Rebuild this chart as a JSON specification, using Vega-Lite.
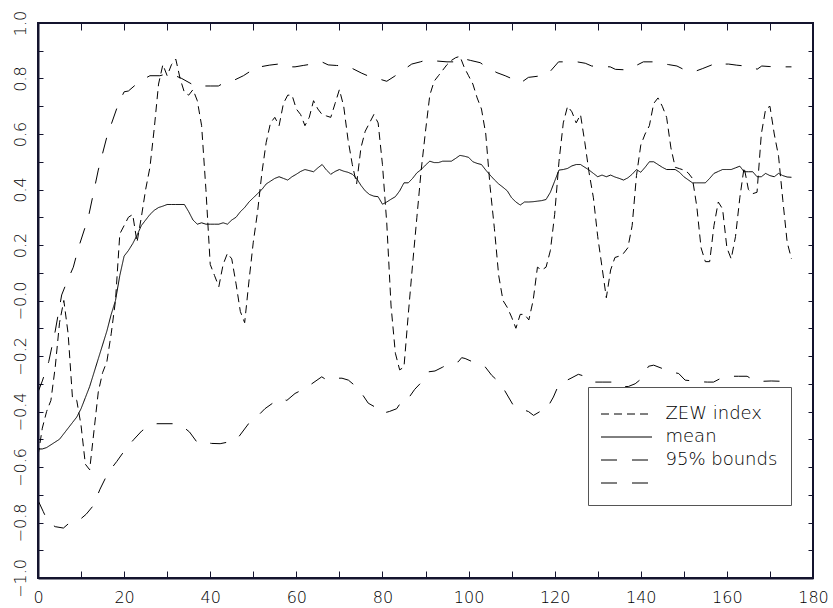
{
  "$schema": "https://vega.github.io/schema/vega-lite/v6.json",
  "width": 775,
  "height": 555,
  "autosize": {"type": "none"},
  "padding": {"left": 38, "top": 23, "right": 20, "bottom": 30},
  "background": "white",
  "config": {
    "view": {"stroke": "#14142e", "strokeWidth": 2},
    "font": "DejaVu Sans",
    "axis": {
      "grid": false,
      "labelFont": "DejaVu Sans",
      "labelFontSize": 16,
      "labelFontWeight": 200,
      "labelColor": "black",
      "labelOverlap": false,
      "title": null
    }
  },
  "data": {
    "values": [
      {"x":0,"y":-0.56,"s":"ZEW index"},{"x":1,"y":-0.46,"s":"ZEW index"},{"x":2,"y":-0.40,"s":"ZEW index"},{"x":3,"y":-0.36,"s":"ZEW index"},{"x":4,"y":-0.24,"s":"ZEW index"},{"x":5,"y":-0.08,"s":"ZEW index"},{"x":6,"y":0.0,"s":"ZEW index"},{"x":7,"y":-0.12,"s":"ZEW index"},{"x":8,"y":-0.35,"s":"ZEW index"},{"x":9,"y":-0.36,"s":"ZEW index"},
      {"x":10,"y":-0.45,"s":"ZEW index"},{"x":11,"y":-0.59,"s":"ZEW index"},{"x":12,"y":-0.61,"s":"ZEW index"},{"x":13,"y":-0.47,"s":"ZEW index"},{"x":14,"y":-0.33,"s":"ZEW index"},{"x":15,"y":-0.26,"s":"ZEW index"},{"x":16,"y":-0.22,"s":"ZEW index"},{"x":17,"y":-0.12,"s":"ZEW index"},{"x":18,"y":0.0,"s":"ZEW index"},{"x":19,"y":0.24,"s":"ZEW index"},
      {"x":20,"y":0.27,"s":"ZEW index"},{"x":21,"y":0.30,"s":"ZEW index"},{"x":22,"y":0.31,"s":"ZEW index"},{"x":23,"y":0.21,"s":"ZEW index"},{"x":24,"y":0.30,"s":"ZEW index"},{"x":25,"y":0.40,"s":"ZEW index"},{"x":26,"y":0.48,"s":"ZEW index"},{"x":27,"y":0.62,"s":"ZEW index"},{"x":28,"y":0.78,"s":"ZEW index"},{"x":29,"y":0.85,"s":"ZEW index"},
      {"x":30,"y":0.81,"s":"ZEW index"},{"x":31,"y":0.85,"s":"ZEW index"},{"x":32,"y":0.87,"s":"ZEW index"},{"x":33,"y":0.80,"s":"ZEW index"},{"x":34,"y":0.75,"s":"ZEW index"},{"x":35,"y":0.74,"s":"ZEW index"},{"x":36,"y":0.76,"s":"ZEW index"},{"x":37,"y":0.72,"s":"ZEW index"},{"x":38,"y":0.63,"s":"ZEW index"},{"x":39,"y":0.40,"s":"ZEW index"},
      {"x":40,"y":0.13,"s":"ZEW index"},{"x":41,"y":0.09,"s":"ZEW index"},{"x":42,"y":0.05,"s":"ZEW index"},{"x":43,"y":0.13,"s":"ZEW index"},{"x":44,"y":0.17,"s":"ZEW index"},{"x":45,"y":0.15,"s":"ZEW index"},{"x":46,"y":0.06,"s":"ZEW index"},{"x":47,"y":-0.04,"s":"ZEW index"},{"x":48,"y":-0.08,"s":"ZEW index"},{"x":49,"y":0.07,"s":"ZEW index"},
      {"x":50,"y":0.21,"s":"ZEW index"},{"x":51,"y":0.32,"s":"ZEW index"},{"x":52,"y":0.46,"s":"ZEW index"},{"x":53,"y":0.57,"s":"ZEW index"},{"x":54,"y":0.64,"s":"ZEW index"},{"x":55,"y":0.66,"s":"ZEW index"},{"x":56,"y":0.63,"s":"ZEW index"},{"x":57,"y":0.71,"s":"ZEW index"},{"x":58,"y":0.74,"s":"ZEW index"},{"x":59,"y":0.74,"s":"ZEW index"},
      {"x":60,"y":0.69,"s":"ZEW index"},{"x":61,"y":0.67,"s":"ZEW index"},{"x":62,"y":0.63,"s":"ZEW index"},{"x":63,"y":0.66,"s":"ZEW index"},{"x":64,"y":0.72,"s":"ZEW index"},{"x":65,"y":0.69,"s":"ZEW index"},{"x":66,"y":0.67,"s":"ZEW index"},{"x":67,"y":0.665,"s":"ZEW index"},{"x":68,"y":0.66,"s":"ZEW index"},{"x":69,"y":0.71,"s":"ZEW index"},
      {"x":70,"y":0.76,"s":"ZEW index"},{"x":71,"y":0.70,"s":"ZEW index"},{"x":72,"y":0.58,"s":"ZEW index"},{"x":73,"y":0.49,"s":"ZEW index"},{"x":74,"y":0.42,"s":"ZEW index"},{"x":75,"y":0.55,"s":"ZEW index"},{"x":76,"y":0.61,"s":"ZEW index"},{"x":77,"y":0.64,"s":"ZEW index"},{"x":78,"y":0.67,"s":"ZEW index"},{"x":79,"y":0.64,"s":"ZEW index"},
      {"x":80,"y":0.49,"s":"ZEW index"},{"x":81,"y":0.28,"s":"ZEW index"},{"x":82,"y":-0.02,"s":"ZEW index"},{"x":83,"y":-0.19,"s":"ZEW index"},{"x":84,"y":-0.25,"s":"ZEW index"},{"x":85,"y":-0.24,"s":"ZEW index"},{"x":86,"y":-0.05,"s":"ZEW index"},{"x":87,"y":0.13,"s":"ZEW index"},{"x":88,"y":0.30,"s":"ZEW index"},{"x":89,"y":0.47,"s":"ZEW index"},
      {"x":90,"y":0.61,"s":"ZEW index"},{"x":91,"y":0.74,"s":"ZEW index"},{"x":92,"y":0.79,"s":"ZEW index"},{"x":93,"y":0.81,"s":"ZEW index"},{"x":94,"y":0.83,"s":"ZEW index"},{"x":95,"y":0.85,"s":"ZEW index"},{"x":96,"y":0.865,"s":"ZEW index"},{"x":97,"y":0.875,"s":"ZEW index"},{"x":98,"y":0.88,"s":"ZEW index"},{"x":99,"y":0.84,"s":"ZEW index"},
      {"x":100,"y":0.81,"s":"ZEW index"},{"x":101,"y":0.78,"s":"ZEW index"},{"x":102,"y":0.73,"s":"ZEW index"},{"x":103,"y":0.69,"s":"ZEW index"},{"x":104,"y":0.60,"s":"ZEW index"},{"x":105,"y":0.41,"s":"ZEW index"},{"x":106,"y":0.26,"s":"ZEW index"},{"x":107,"y":0.09,"s":"ZEW index"},{"x":108,"y":0.0,"s":"ZEW index"},{"x":109,"y":-0.025,"s":"ZEW index"},
      {"x":110,"y":-0.06,"s":"ZEW index"},{"x":111,"y":-0.10,"s":"ZEW index"},{"x":112,"y":-0.05,"s":"ZEW index"},{"x":113,"y":-0.05,"s":"ZEW index"},{"x":114,"y":-0.07,"s":"ZEW index"},{"x":115,"y":0.0,"s":"ZEW index"},{"x":116,"y":0.12,"s":"ZEW index"},{"x":117,"y":0.11,"s":"ZEW index"},{"x":118,"y":0.12,"s":"ZEW index"},{"x":119,"y":0.18,"s":"ZEW index"},
      {"x":120,"y":0.31,"s":"ZEW index"},{"x":121,"y":0.50,"s":"ZEW index"},{"x":122,"y":0.64,"s":"ZEW index"},{"x":123,"y":0.70,"s":"ZEW index"},{"x":124,"y":0.68,"s":"ZEW index"},{"x":125,"y":0.64,"s":"ZEW index"},{"x":126,"y":0.67,"s":"ZEW index"},{"x":127,"y":0.57,"s":"ZEW index"},{"x":128,"y":0.46,"s":"ZEW index"},{"x":129,"y":0.37,"s":"ZEW index"},
      {"x":130,"y":0.23,"s":"ZEW index"},{"x":131,"y":0.12,"s":"ZEW index"},{"x":132,"y":0.01,"s":"ZEW index"},{"x":133,"y":0.11,"s":"ZEW index"},{"x":134,"y":0.155,"s":"ZEW index"},{"x":135,"y":0.16,"s":"ZEW index"},{"x":136,"y":0.17,"s":"ZEW index"},{"x":137,"y":0.19,"s":"ZEW index"},{"x":138,"y":0.27,"s":"ZEW index"},{"x":139,"y":0.45,"s":"ZEW index"},
      {"x":140,"y":0.56,"s":"ZEW index"},{"x":141,"y":0.60,"s":"ZEW index"},{"x":142,"y":0.63,"s":"ZEW index"},{"x":143,"y":0.71,"s":"ZEW index"},{"x":144,"y":0.73,"s":"ZEW index"},{"x":145,"y":0.70,"s":"ZEW index"},{"x":146,"y":0.66,"s":"ZEW index"},{"x":147,"y":0.55,"s":"ZEW index"},{"x":148,"y":0.48,"s":"ZEW index"},{"x":149,"y":0.475,"s":"ZEW index"},
      {"x":150,"y":0.47,"s":"ZEW index"},{"x":151,"y":0.46,"s":"ZEW index"},{"x":152,"y":0.44,"s":"ZEW index"},{"x":153,"y":0.34,"s":"ZEW index"},{"x":154,"y":0.19,"s":"ZEW index"},{"x":155,"y":0.14,"s":"ZEW index"},{"x":156,"y":0.14,"s":"ZEW index"},{"x":157,"y":0.27,"s":"ZEW index"},{"x":158,"y":0.355,"s":"ZEW index"},{"x":159,"y":0.33,"s":"ZEW index"},
      {"x":160,"y":0.19,"s":"ZEW index"},{"x":161,"y":0.15,"s":"ZEW index"},{"x":162,"y":0.23,"s":"ZEW index"},{"x":163,"y":0.37,"s":"ZEW index"},{"x":164,"y":0.48,"s":"ZEW index"},{"x":165,"y":0.40,"s":"ZEW index"},{"x":166,"y":0.385,"s":"ZEW index"},{"x":167,"y":0.39,"s":"ZEW index"},{"x":168,"y":0.60,"s":"ZEW index"},{"x":169,"y":0.69,"s":"ZEW index"},
      {"x":170,"y":0.70,"s":"ZEW index"},{"x":171,"y":0.60,"s":"ZEW index"},{"x":172,"y":0.52,"s":"ZEW index"},{"x":173,"y":0.36,"s":"ZEW index"},{"x":174,"y":0.21,"s":"ZEW index"},{"x":175,"y":0.15,"s":"ZEW index"},

      {"x":0,"y":-0.535,"s":"mean"},{"x":1,"y":-0.535,"s":"mean"},{"x":2,"y":-0.53,"s":"mean"},{"x":3,"y":-0.52,"s":"mean"},{"x":4,"y":-0.51,"s":"mean"},{"x":5,"y":-0.50,"s":"mean"},{"x":6,"y":-0.48,"s":"mean"},{"x":7,"y":-0.46,"s":"mean"},{"x":8,"y":-0.44,"s":"mean"},{"x":9,"y":-0.42,"s":"mean"},
      {"x":10,"y":-0.39,"s":"mean"},{"x":11,"y":-0.35,"s":"mean"},{"x":12,"y":-0.31,"s":"mean"},{"x":13,"y":-0.26,"s":"mean"},{"x":14,"y":-0.21,"s":"mean"},{"x":15,"y":-0.16,"s":"mean"},{"x":16,"y":-0.11,"s":"mean"},{"x":17,"y":-0.05,"s":"mean"},{"x":18,"y":0.0,"s":"mean"},{"x":19,"y":0.09,"s":"mean"},
      {"x":20,"y":0.16,"s":"mean"},{"x":21,"y":0.18,"s":"mean"},{"x":22,"y":0.205,"s":"mean"},{"x":23,"y":0.235,"s":"mean"},{"x":24,"y":0.27,"s":"mean"},{"x":25,"y":0.29,"s":"mean"},{"x":26,"y":0.31,"s":"mean"},{"x":27,"y":0.325,"s":"mean"},{"x":28,"y":0.335,"s":"mean"},{"x":29,"y":0.34,"s":"mean"},
      {"x":30,"y":0.346,"s":"mean"},{"x":31,"y":0.346,"s":"mean"},{"x":32,"y":0.346,"s":"mean"},{"x":33,"y":0.346,"s":"mean"},{"x":34,"y":0.346,"s":"mean"},{"x":35,"y":0.32,"s":"mean"},{"x":36,"y":0.29,"s":"mean"},{"x":37,"y":0.275,"s":"mean"},{"x":38,"y":0.28,"s":"mean"},{"x":39,"y":0.275,"s":"mean"},
      {"x":40,"y":0.275,"s":"mean"},{"x":41,"y":0.275,"s":"mean"},{"x":42,"y":0.275,"s":"mean"},{"x":43,"y":0.28,"s":"mean"},{"x":44,"y":0.275,"s":"mean"},{"x":45,"y":0.29,"s":"mean"},{"x":46,"y":0.30,"s":"mean"},{"x":47,"y":0.32,"s":"mean"},{"x":48,"y":0.335,"s":"mean"},{"x":49,"y":0.355,"s":"mean"},
      {"x":50,"y":0.37,"s":"mean"},{"x":51,"y":0.385,"s":"mean"},{"x":52,"y":0.40,"s":"mean"},{"x":53,"y":0.42,"s":"mean"},{"x":54,"y":0.43,"s":"mean"},{"x":55,"y":0.44,"s":"mean"},{"x":56,"y":0.446,"s":"mean"},{"x":57,"y":0.44,"s":"mean"},{"x":58,"y":0.434,"s":"mean"},{"x":59,"y":0.446,"s":"mean"},
      {"x":60,"y":0.455,"s":"mean"},{"x":61,"y":0.465,"s":"mean"},{"x":62,"y":0.472,"s":"mean"},{"x":63,"y":0.468,"s":"mean"},{"x":64,"y":0.464,"s":"mean"},{"x":65,"y":0.478,"s":"mean"},{"x":66,"y":0.49,"s":"mean"},{"x":67,"y":0.47,"s":"mean"},{"x":68,"y":0.455,"s":"mean"},{"x":69,"y":0.465,"s":"mean"},
      {"x":70,"y":0.472,"s":"mean"},{"x":71,"y":0.466,"s":"mean"},{"x":72,"y":0.462,"s":"mean"},{"x":73,"y":0.455,"s":"mean"},{"x":74,"y":0.44,"s":"mean"},{"x":75,"y":0.415,"s":"mean"},{"x":76,"y":0.395,"s":"mean"},{"x":77,"y":0.382,"s":"mean"},{"x":78,"y":0.376,"s":"mean"},{"x":79,"y":0.374,"s":"mean"},
      {"x":80,"y":0.347,"s":"mean"},{"x":81,"y":0.355,"s":"mean"},{"x":82,"y":0.365,"s":"mean"},{"x":83,"y":0.374,"s":"mean"},{"x":84,"y":0.395,"s":"mean"},{"x":85,"y":0.424,"s":"mean"},{"x":86,"y":0.424,"s":"mean"},{"x":87,"y":0.44,"s":"mean"},{"x":88,"y":0.46,"s":"mean"},{"x":89,"y":0.472,"s":"mean"},
      {"x":90,"y":0.488,"s":"mean"},{"x":91,"y":0.502,"s":"mean"},{"x":92,"y":0.497,"s":"mean"},{"x":93,"y":0.497,"s":"mean"},{"x":94,"y":0.502,"s":"mean"},{"x":95,"y":0.502,"s":"mean"},{"x":96,"y":0.502,"s":"mean"},{"x":97,"y":0.512,"s":"mean"},{"x":98,"y":0.523,"s":"mean"},{"x":99,"y":0.52,"s":"mean"},
      {"x":100,"y":0.516,"s":"mean"},{"x":101,"y":0.50,"s":"mean"},{"x":102,"y":0.494,"s":"mean"},{"x":103,"y":0.49,"s":"mean"},{"x":104,"y":0.47,"s":"mean"},{"x":105,"y":0.452,"s":"mean"},{"x":106,"y":0.435,"s":"mean"},{"x":107,"y":0.42,"s":"mean"},{"x":108,"y":0.408,"s":"mean"},{"x":109,"y":0.395,"s":"mean"},
      {"x":110,"y":0.37,"s":"mean"},{"x":111,"y":0.355,"s":"mean"},{"x":112,"y":0.344,"s":"mean"},{"x":113,"y":0.355,"s":"mean"},{"x":114,"y":0.355,"s":"mean"},{"x":115,"y":0.356,"s":"mean"},{"x":116,"y":0.358,"s":"mean"},{"x":117,"y":0.36,"s":"mean"},{"x":118,"y":0.364,"s":"mean"},{"x":119,"y":0.39,"s":"mean"},
      {"x":120,"y":0.43,"s":"mean"},{"x":121,"y":0.47,"s":"mean"},{"x":122,"y":0.472,"s":"mean"},{"x":123,"y":0.476,"s":"mean"},{"x":124,"y":0.485,"s":"mean"},{"x":125,"y":0.49,"s":"mean"},{"x":126,"y":0.49,"s":"mean"},{"x":127,"y":0.48,"s":"mean"},{"x":128,"y":0.47,"s":"mean"},{"x":129,"y":0.458,"s":"mean"},
      {"x":130,"y":0.446,"s":"mean"},{"x":131,"y":0.452,"s":"mean"},{"x":132,"y":0.446,"s":"mean"},{"x":133,"y":0.452,"s":"mean"},{"x":134,"y":0.445,"s":"mean"},{"x":135,"y":0.44,"s":"mean"},{"x":136,"y":0.434,"s":"mean"},{"x":137,"y":0.442,"s":"mean"},{"x":138,"y":0.455,"s":"mean"},{"x":139,"y":0.472,"s":"mean"},
      {"x":140,"y":0.462,"s":"mean"},{"x":141,"y":0.48,"s":"mean"},{"x":142,"y":0.50,"s":"mean"},{"x":143,"y":0.50,"s":"mean"},{"x":144,"y":0.49,"s":"mean"},{"x":145,"y":0.48,"s":"mean"},{"x":146,"y":0.472,"s":"mean"},{"x":147,"y":0.472,"s":"mean"},{"x":148,"y":0.472,"s":"mean"},{"x":149,"y":0.462,"s":"mean"},
      {"x":150,"y":0.446,"s":"mean"},{"x":151,"y":0.435,"s":"mean"},{"x":152,"y":0.424,"s":"mean"},{"x":153,"y":0.424,"s":"mean"},{"x":154,"y":0.424,"s":"mean"},{"x":155,"y":0.424,"s":"mean"},{"x":156,"y":0.44,"s":"mean"},{"x":157,"y":0.458,"s":"mean"},{"x":158,"y":0.465,"s":"mean"},{"x":159,"y":0.472,"s":"mean"},
      {"x":160,"y":0.472,"s":"mean"},{"x":161,"y":0.472,"s":"mean"},{"x":162,"y":0.478,"s":"mean"},{"x":163,"y":0.484,"s":"mean"},{"x":164,"y":0.464,"s":"mean"},{"x":165,"y":0.464,"s":"mean"},{"x":166,"y":0.464,"s":"mean"},{"x":167,"y":0.446,"s":"mean"},{"x":168,"y":0.446,"s":"mean"},{"x":169,"y":0.458,"s":"mean"},
      {"x":170,"y":0.45,"s":"mean"},{"x":171,"y":0.446,"s":"mean"},{"x":172,"y":0.458,"s":"mean"},{"x":173,"y":0.45,"s":"mean"},{"x":174,"y":0.445,"s":"mean"},{"x":175,"y":0.444,"s":"mean"},

      {"x":0,"y":-0.33,"s":"95% bounds"},{"x":1,"y":-0.29,"s":"95% bounds"},{"x":2.5,"y":-0.22,"s":"95% bounds"},{"x":4,"y":-0.11,"s":"95% bounds"},{"x":5.5,"y":0.02,"s":"95% bounds"},{"x":6.7,"y":0.067,"s":"95% bounds"},{"x":8.2,"y":0.12,"s":"95% bounds"},{"x":9.4,"y":0.19,"s":"95% bounds"},{"x":11.7,"y":0.30,"s":"95% bounds"},{"x":14,"y":0.47,"s":"95% bounds"},
      {"x":16,"y":0.59,"s":"95% bounds"},{"x":18.7,"y":0.71,"s":"95% bounds"},{"x":20,"y":0.752,"s":"95% bounds"},{"x":21,"y":0.755,"s":"95% bounds"},{"x":22.5,"y":0.775,"s":"95% bounds"},{"x":24.1,"y":0.794,"s":"95% bounds"},{"x":26,"y":0.81,"s":"95% bounds"},{"x":28.3,"y":0.81,"s":"95% bounds"},{"x":29.5,"y":0.815,"s":"95% bounds"},{"x":31,"y":0.816,"s":"95% bounds"},
      {"x":33.4,"y":0.80,"s":"95% bounds"},{"x":35.7,"y":0.78,"s":"95% bounds"},{"x":36.9,"y":0.77,"s":"95% bounds"},{"x":37.6,"y":0.773,"s":"95% bounds"},{"x":40,"y":0.773,"s":"95% bounds"},{"x":41.9,"y":0.773,"s":"95% bounds"},{"x":42.7,"y":0.78,"s":"95% bounds"},{"x":43.8,"y":0.783,"s":"95% bounds"},{"x":45.7,"y":0.795,"s":"95% bounds"},{"x":47.7,"y":0.81,"s":"95% bounds"},
      {"x":50,"y":0.833,"s":"95% bounds"},{"x":51.2,"y":0.833,"s":"95% bounds"},{"x":51.6,"y":0.842,"s":"95% bounds"},{"x":53.7,"y":0.848,"s":"95% bounds"},{"x":55.8,"y":0.852,"s":"95% bounds"},{"x":57.4,"y":0.842,"s":"95% bounds"},{"x":59.7,"y":0.842,"s":"95% bounds"},{"x":61.6,"y":0.847,"s":"95% bounds"},{"x":63.6,"y":0.852,"s":"95% bounds"},{"x":65.9,"y":0.86,"s":"95% bounds"},
      {"x":67.4,"y":0.849,"s":"95% bounds"},{"x":69.3,"y":0.847,"s":"95% bounds"},{"x":71.3,"y":0.845,"s":"95% bounds"},{"x":72.9,"y":0.837,"s":"95% bounds"},{"x":75.2,"y":0.819,"s":"95% bounds"},{"x":77.3,"y":0.805,"s":"95% bounds"},{"x":79.5,"y":0.797,"s":"95% bounds"},{"x":81,"y":0.79,"s":"95% bounds"},{"x":82.9,"y":0.809,"s":"95% bounds"},{"x":84.8,"y":0.83,"s":"95% bounds"},
      {"x":86.8,"y":0.852,"s":"95% bounds"},{"x":88.8,"y":0.86,"s":"95% bounds"},{"x":90.3,"y":0.867,"s":"95% bounds"},{"x":92.6,"y":0.863,"s":"95% bounds"},{"x":95,"y":0.86,"s":"95% bounds"},{"x":96.5,"y":0.86,"s":"95% bounds"},{"x":98.4,"y":0.873,"s":"95% bounds"},{"x":100.5,"y":0.865,"s":"95% bounds"},{"x":102.7,"y":0.857,"s":"95% bounds"},{"x":104.6,"y":0.837,"s":"95% bounds"},
      {"x":106.6,"y":0.821,"s":"95% bounds"},{"x":108.5,"y":0.81,"s":"95% bounds"},{"x":110.4,"y":0.797,"s":"95% bounds"},{"x":112,"y":0.783,"s":"95% bounds"},{"x":113.9,"y":0.804,"s":"95% bounds"},{"x":116,"y":0.808,"s":"95% bounds"},{"x":118.2,"y":0.812,"s":"95% bounds"},{"x":120.9,"y":0.86,"s":"95% bounds"},{"x":123,"y":0.86,"s":"95% bounds"},{"x":125.2,"y":0.86,"s":"95% bounds"},
      {"x":127.1,"y":0.855,"s":"95% bounds"},{"x":128.6,"y":0.845,"s":"95% bounds"},{"x":130.8,"y":0.843,"s":"95% bounds"},{"x":132.9,"y":0.842,"s":"95% bounds"},{"x":134.1,"y":0.833,"s":"95% bounds"},{"x":136.8,"y":0.831,"s":"95% bounds"},{"x":138.7,"y":0.845,"s":"95% bounds"},{"x":140.6,"y":0.86,"s":"95% bounds"},{"x":142.9,"y":0.86,"s":"95% bounds"},{"x":144.5,"y":0.855,"s":"95% bounds"},
      {"x":146.5,"y":0.85,"s":"95% bounds"},{"x":148.4,"y":0.845,"s":"95% bounds"},{"x":150.3,"y":0.83,"s":"95% bounds"},{"x":152.3,"y":0.824,"s":"95% bounds"},{"x":154.4,"y":0.836,"s":"95% bounds"},{"x":156.5,"y":0.849,"s":"95% bounds"},{"x":157.7,"y":0.842,"s":"95% bounds"},{"x":158.9,"y":0.852,"s":"95% bounds"},{"x":160.4,"y":0.852,"s":"95% bounds"},{"x":162.3,"y":0.848,"s":"95% bounds"},
      {"x":164.3,"y":0.845,"s":"95% bounds"},{"x":166.2,"y":0.842,"s":"95% bounds"},{"x":167,"y":0.833,"s":"95% bounds"},{"x":168.1,"y":0.845,"s":"95% bounds"},{"x":170,"y":0.843,"s":"95% bounds"},{"x":172.2,"y":0.842,"s":"95% bounds"},{"x":175,"y":0.842,"s":"95% bounds"},

      {"x":0,"y":-0.72,"s":"lower"},{"x":1.2,"y":-0.76,"s":"lower"},{"x":2.4,"y":-0.80,"s":"lower"},{"x":4,"y":-0.815,"s":"lower"},{"x":5.9,"y":-0.82,"s":"lower"},{"x":7.4,"y":-0.80,"s":"lower"},{"x":8.2,"y":-0.80,"s":"lower"},{"x":9.7,"y":-0.79,"s":"lower"},{"x":11.2,"y":-0.77,"s":"lower"},{"x":12.8,"y":-0.74,"s":"lower"},
      {"x":14.4,"y":-0.68,"s":"lower"},{"x":16.3,"y":-0.62,"s":"lower"},{"x":18.3,"y":-0.58,"s":"lower"},{"x":20.6,"y":-0.53,"s":"lower"},{"x":22.3,"y":-0.50,"s":"lower"},{"x":24.1,"y":-0.47,"s":"lower"},{"x":26,"y":-0.45,"s":"lower"},{"x":27.6,"y":-0.444,"s":"lower"},{"x":31.4,"y":-0.444,"s":"lower"},{"x":33.3,"y":-0.45,"s":"lower"},
      {"x":35.2,"y":-0.474,"s":"lower"},{"x":36.9,"y":-0.51,"s":"lower"},{"x":37.5,"y":-0.505,"s":"lower"},{"x":38.4,"y":-0.51,"s":"lower"},{"x":40.3,"y":-0.515,"s":"lower"},{"x":42.3,"y":-0.516,"s":"lower"},{"x":44.2,"y":-0.51,"s":"lower"},{"x":46.2,"y":-0.50,"s":"lower"},{"x":48.9,"y":-0.444,"s":"lower"},{"x":50.8,"y":-0.42,"s":"lower"},
      {"x":52.7,"y":-0.39,"s":"lower"},{"x":54.5,"y":-0.37,"s":"lower"},{"x":56.2,"y":-0.353,"s":"lower"},{"x":57.8,"y":-0.36,"s":"lower"},{"x":59.7,"y":-0.335,"s":"lower"},{"x":61.6,"y":-0.32,"s":"lower"},{"x":63.6,"y":-0.30,"s":"lower"},{"x":65.9,"y":-0.275,"s":"lower"},{"x":67.1,"y":-0.287,"s":"lower"},{"x":68.9,"y":-0.28,"s":"lower"},
      {"x":70.6,"y":-0.28,"s":"lower"},{"x":72.1,"y":-0.287,"s":"lower"},{"x":74.4,"y":-0.317,"s":"lower"},{"x":76.7,"y":-0.37,"s":"lower"},{"x":78.3,"y":-0.384,"s":"lower"},{"x":79.9,"y":-0.407,"s":"lower"},{"x":81.6,"y":-0.40,"s":"lower"},{"x":83.3,"y":-0.39,"s":"lower"},{"x":84.9,"y":-0.353,"s":"lower"},{"x":86,"y":-0.353,"s":"lower"},
      {"x":87.5,"y":-0.32,"s":"lower"},{"x":89.1,"y":-0.294,"s":"lower"},{"x":90.7,"y":-0.257,"s":"lower"},{"x":92.2,"y":-0.254,"s":"lower"},{"x":94,"y":-0.24,"s":"lower"},{"x":95.7,"y":-0.225,"s":"lower"},{"x":97.6,"y":-0.221,"s":"lower"},{"x":98.4,"y":-0.206,"s":"lower"},{"x":99.2,"y":-0.209,"s":"lower"},{"x":100.8,"y":-0.22,"s":"lower"},
      {"x":102.3,"y":-0.23,"s":"lower"},{"x":103.9,"y":-0.24,"s":"lower"},{"x":105.4,"y":-0.27,"s":"lower"},{"x":106.8,"y":-0.29,"s":"lower"},{"x":108.1,"y":-0.317,"s":"lower"},{"x":110.4,"y":-0.378,"s":"lower"},{"x":112,"y":-0.39,"s":"lower"},{"x":113.9,"y":-0.40,"s":"lower"},{"x":115.1,"y":-0.414,"s":"lower"},{"x":116.6,"y":-0.40,"s":"lower"},
      {"x":117.8,"y":-0.40,"s":"lower"},{"x":119.7,"y":-0.348,"s":"lower"},{"x":120.9,"y":-0.305,"s":"lower"},{"x":122,"y":-0.294,"s":"lower"},{"x":123.8,"y":-0.28,"s":"lower"},{"x":125.5,"y":-0.266,"s":"lower"},{"x":127.4,"y":-0.275,"s":"lower"},{"x":129,"y":-0.294,"s":"lower"},{"x":131.2,"y":-0.294,"s":"lower"},{"x":133.3,"y":-0.294,"s":"lower"},
      {"x":135.2,"y":-0.31,"s":"lower"},{"x":137.1,"y":-0.31,"s":"lower"},{"x":138.7,"y":-0.30,"s":"lower"},{"x":140.3,"y":-0.28,"s":"lower"},{"x":141.8,"y":-0.237,"s":"lower"},{"x":143,"y":-0.233,"s":"lower"},{"x":145,"y":-0.245,"s":"lower"},{"x":146.8,"y":-0.257,"s":"lower"},{"x":148.8,"y":-0.263,"s":"lower"},{"x":150.3,"y":-0.287,"s":"lower"},
      {"x":152.2,"y":-0.29,"s":"lower"},{"x":154,"y":-0.293,"s":"lower"},{"x":155.5,"y":-0.294,"s":"lower"},{"x":156.9,"y":-0.294,"s":"lower"},{"x":158.5,"y":-0.281,"s":"lower"},{"x":160.8,"y":-0.273,"s":"lower"},{"x":162.7,"y":-0.273,"s":"lower"},{"x":164.7,"y":-0.273,"s":"lower"},{"x":166.2,"y":-0.287,"s":"lower"},{"x":167.7,"y":-0.294,"s":"lower"},
      {"x":168.5,"y":-0.291,"s":"lower"},{"x":170.3,"y":-0.29,"s":"lower"},{"x":172.4,"y":-0.291,"s":"lower"},{"x":175,"y":-0.294,"s":"lower"}
    ]
  },
  "layer": [
    {
      "mark": {"type": "line", "color": "black", "strokeWidth": 1},
      "encoding": {
        "x": {
          "field": "x", "type": "quantitative",
          "scale": {"domain": [0, 180], "nice": false, "zero": false},
          "axis": {
            "orient": "bottom",
            "values": [0,20,40,60,80,100,120,140,160,180],
            "labelFlush": false,
            "domain": true,
            "domainColor": "#14142e",
            "domainWidth": 2,
            "ticks": false,
            "labelPadding": 11
          }
        },
        "y": {
          "field": "y", "type": "quantitative",
          "scale": {"domain": [-1, 1], "nice": false, "zero": false},
          "axis": {
            "orient": "left",
            "values": [-1,-0.8,-0.6,-0.4,-0.2,0,0.2,0.4,0.6,0.8,1],
            "labelExpr": "round(datum.value*10) == 0 ? '\u22120.0' : format(datum.value, '.1f')",
            "labelAngle": -90,
            "labelAlign": "center",
            "labelBaseline": "bottom",
            "domain": true,
            "domainColor": "#14142e",
            "domainWidth": 2,
            "ticks": false,
            "labelPadding": 10
          }
        },
        "strokeDash": {
          "field": "s", "type": "nominal",
          "scale": {
            "domain": ["ZEW index", "mean", "95% bounds", "lower"],
            "range": [[8, 5], [1, 0], [16, 15], [16, 15]]
          },
          "legend": {
            "orient": "none",
            "legendX": 550,
            "legendY": 364,
            "title": " ",
            "titleFontSize": 2,
            "titlePadding": 3,
            "symbolType": "M-3,0H3",
            "symbolSize": 289,
            "symbolOffset": 16.5,
            "symbolStrokeWidth": 1,
            "symbolStrokeColor": "black",
            "labelFont": "DejaVu Sans",
            "labelFontSize": 18,
            "labelFontWeight": 200,
            "labelColor": "black",
            "labelOffset": 30,
            "rowPadding": 5,
            "padding": 13,
            "strokeColor": "#555555",
            "fillColor": "white",
            "labelLimit": 300,
            "labelExpr": "datum.label == 'lower' ? '' : datum.label"
          }
        }
      }
    },
    {
      "mark": {"type": "line", "opacity": 0},
      "encoding": {
        "x": {
          "field": "x", "type": "quantitative",
          "scale": {"domain": [0, 180], "nice": false, "zero": false},
          "axis": {
            "orient": "bottom",
            "values": [0,10,20,30,40,50,60,70,80,90,100,110,120,130,140,150,160,170,180],
            "labels": false,
            "domain": false,
            "ticks": true,
            "tickColor": "#14142e",
            "tickSize": 7,
            "offset": -7
          }
        },
        "y": {
          "field": "y", "type": "quantitative",
          "scale": {"domain": [-1, 1], "nice": false, "zero": false},
          "axis": {
            "orient": "left",
            "values": [-1,-0.9,-0.8,-0.7,-0.6,-0.5,-0.4,-0.3,-0.2,-0.1,0,0.1,0.2,0.3,0.4,0.5,0.6,0.7,0.8,0.9,1],
            "labels": false,
            "domain": false,
            "ticks": true,
            "tickColor": "#14142e",
            "tickSize": 5,
            "offset": -5
          }
        },
        "detail": {"field": "s", "type": "nominal"}
      }
    },
    {
      "mark": {"type": "line", "opacity": 0},
      "encoding": {
        "x": {
          "field": "x", "type": "quantitative",
          "scale": {"domain": [0, 180], "nice": false, "zero": false},
          "axis": {
            "orient": "top",
            "values": [0,10,20,30,40,50,60,70,80,90,100,110,120,130,140,150,160,170,180],
            "labels": false,
            "domain": false,
            "ticks": true,
            "tickColor": "#14142e",
            "tickSize": 7,
            "offset": -7
          }
        },
        "y": {
          "field": "y", "type": "quantitative",
          "scale": {"domain": [-1, 1], "nice": false, "zero": false},
          "axis": {
            "orient": "right",
            "values": [-1,-0.9,-0.8,-0.7,-0.6,-0.5,-0.4,-0.3,-0.2,-0.1,0,0.1,0.2,0.3,0.4,0.5,0.6,0.7,0.8,0.9,1],
            "labels": false,
            "domain": false,
            "ticks": true,
            "tickColor": "#14142e",
            "tickSize": 5,
            "offset": -5
          }
        },
        "detail": {"field": "s", "type": "nominal"}
      }
    },
    {
      "data": {"values": [{"frame": 1}]},
      "mark": {"type": "rect", "fill": "transparent", "stroke": "#14142e", "strokeWidth": 2},
      "encoding": {
        "x": {"datum": 0, "type": "quantitative", "axis": null},
        "x2": {"datum": 180},
        "y": {"datum": -1, "type": "quantitative", "axis": null},
        "y2": {"datum": 1}
      }
    }
  ],
  "resolve": {"axis": {"x": "independent", "y": "independent"}}
}
